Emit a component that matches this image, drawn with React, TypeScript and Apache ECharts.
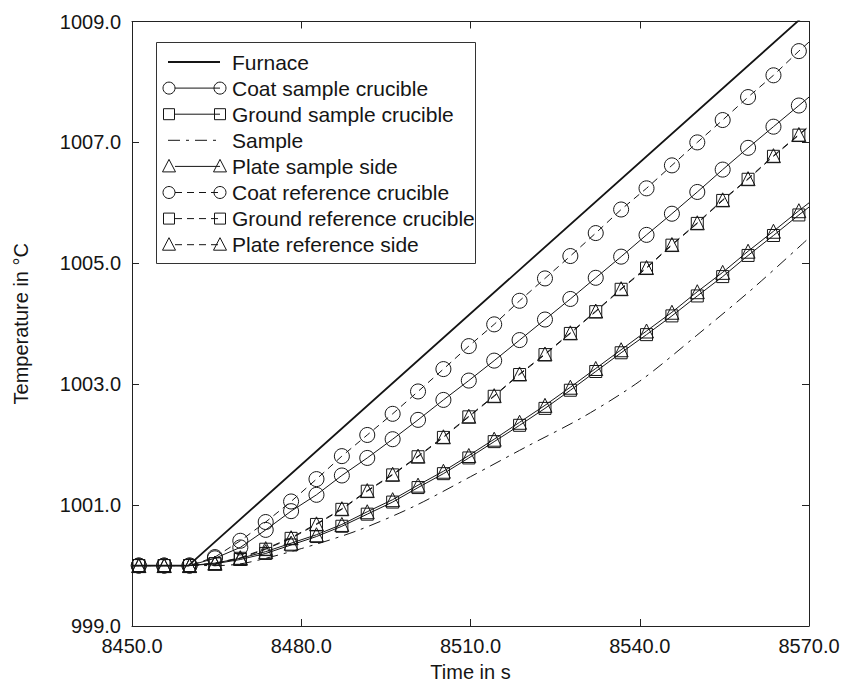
import React, { useEffect, useRef } from "react";
import * as echarts from "echarts";

const FONT = "'Liberation Sans', Arial, Helvetica, sans-serif";
const INK = "#151515";

// x-axis / y-axis ranges and tick labels
const xTicks = [8450, 8480, 8510, 8540, 8570];
const yTicks = [999, 1001, 1003, 1005, 1007, 1009];

// times of the marked series (first and last entries are line ends without markers)
const markTimes = [
  8450.0, 8451.2, 8455.7, 8460.2, 8464.7, 8469.2, 8473.7, 8478.2, 8482.7, 8487.2,
  8491.7, 8496.2, 8500.7, 8505.2, 8509.7, 8514.2, 8518.7, 8523.2, 8527.7, 8532.2,
  8536.7, 8541.2, 8545.7, 8550.2, 8554.7, 8559.2, 8563.7, 8568.2, 8570.0,
];

const coatSample = [
  1000.0, 1000.0, 1000.0, 1000.0, 1000.12, 1000.3, 1000.59, 1000.9, 1001.17, 1001.49,
  1001.78, 1002.09, 1002.41, 1002.74, 1003.06, 1003.39, 1003.73, 1004.07, 1004.41, 1004.76,
  1005.11, 1005.47, 1005.82, 1006.18, 1006.55, 1006.91, 1007.26, 1007.61, 1007.75,
];
const groundSample = [
  1000.0, 1000.0, 1000.0, 1000.0, 1000.03, 1000.1, 1000.2, 1000.34, 1000.48, 1000.65,
  1000.85, 1001.05, 1001.29, 1001.52, 1001.78, 1002.05, 1002.32, 1002.6, 1002.9, 1003.21,
  1003.52, 1003.82, 1004.13, 1004.46, 1004.78, 1005.13, 1005.46, 1005.8, 1005.93,
];
const plateSample = [
  1000.0, 1000.0, 1000.0, 1000.0, 1000.04, 1000.12, 1000.23, 1000.37, 1000.51, 1000.68,
  1000.89, 1001.09, 1001.33, 1001.56, 1001.82, 1002.09, 1002.37, 1002.65, 1002.95, 1003.26,
  1003.57, 1003.88, 1004.19, 1004.53, 1004.85, 1005.2, 1005.53, 1005.87, 1006.0,
];
const coatRef = [
  1000.0, 1000.0, 1000.0, 1000.0, 1000.14, 1000.41, 1000.72, 1001.06, 1001.43, 1001.81,
  1002.16, 1002.51, 1002.88, 1003.25, 1003.63, 1003.99, 1004.38, 1004.75, 1005.12, 1005.5,
  1005.89, 1006.24, 1006.62, 1007.0, 1007.37, 1007.75, 1008.11, 1008.51, 1008.66,
];
const groundRef = [
  1000.0, 1000.0, 1000.0, 1000.0, 1000.03, 1000.12, 1000.27, 1000.45, 1000.68, 1000.93,
  1001.23, 1001.5, 1001.8, 1002.12, 1002.46, 1002.8, 1003.16, 1003.49, 1003.84, 1004.2,
  1004.57, 1004.92, 1005.3, 1005.66, 1006.04, 1006.39, 1006.77, 1007.12, 1007.26,
];
const plateRef = [
  1000.0, 1000.0, 1000.0, 1000.0, 1000.04, 1000.13, 1000.28, 1000.46, 1000.69, 1000.94,
  1001.24, 1001.51, 1001.81, 1002.13, 1002.47, 1002.81, 1003.17, 1003.5, 1003.85, 1004.21,
  1004.58, 1004.93, 1005.31, 1005.67, 1006.05, 1006.4, 1006.78, 1007.13, 1007.27,
];

const furnaceTimes = [8450, 8460, 8570];
const furnace = [1000.0, 1000.0, 1009.17];

const sampleTimes = [8450, 8465, 8470, 8480, 8490, 8500, 8510, 8520, 8530, 8540, 8550, 8560, 8570];
const sample = [
  1000.0, 1000.0, 1000.04, 1000.28, 1000.58, 1000.98, 1001.47, 1001.97, 1002.46, 1003.05,
  1003.8, 1004.58, 1005.42,
];

const DASH = [7, 5];
const DASHDOT = [12, 6, 3, 6];

type Entry = {
  name: string;
  times: number[];
  values: number[];
  symbol: string;
  size: number;
  dash: number[] | null;
  width: number;
  marked: boolean;
};

const entries: Entry[] = [
  { name: "Furnace", times: furnaceTimes, values: furnace, symbol: "none", size: 0, dash: null, width: 1.8, marked: false },
  { name: "Coat sample crucible", times: markTimes, values: coatSample, symbol: "circle", size: 15, dash: null, width: 1, marked: true },
  { name: "Ground sample crucible", times: markTimes, values: groundSample, symbol: "rect", size: 12, dash: null, width: 1, marked: true },
  { name: "Sample", times: sampleTimes, values: sample, symbol: "none", size: 0, dash: DASHDOT, width: 1, marked: false },
  { name: "Plate sample side", times: markTimes, values: plateSample, symbol: "triangle", size: 14, dash: null, width: 1, marked: true },
  { name: "Coat reference crucible", times: markTimes, values: coatRef, symbol: "circle", size: 15, dash: DASH, width: 1, marked: true },
  { name: "Ground reference crucible", times: markTimes, values: groundRef, symbol: "rect", size: 12, dash: DASH, width: 1, marked: true },
  { name: "Plate reference side", times: markTimes, values: plateRef, symbol: "triangle", size: 14, dash: DASH, width: 1, marked: true },
];

function buildData(e: Entry) {
  return e.times.map((t, i) => {
    const end = i === 0 || i === e.times.length - 1;
    if (!e.marked || end) return { value: [t, e.values[i]], symbol: "none" };
    return { value: [t, e.values[i]] };
  });
}

function legendGraphics() {
  const els: any[] = [];
  els.push({
    type: "rect",
    shape: { x: 156.5, y: 42.5, width: 319, height: 221 },
    style: { fill: "#fff", stroke: "#333", lineWidth: 1 },
    z: 50,
  });
  const x1 = 169;
  const x2 = 220;
  entries.forEach((e, i) => {
    const y = 62 + i * 26.1;
    const lineStart = e.symbol === "none" ? x1 - 1 : x1 + 6;
    els.push({
      type: "line",
      shape: { x1: lineStart, y1: y, x2: x2, y2: y },
      style: { stroke: INK, lineWidth: e.width, lineDash: e.dash || undefined },
      z: 51,
    });
    [x1, x2].forEach((cx) => {
      if (e.symbol === "circle") {
        els.push({ type: "circle", shape: { cx, cy: y, r: 6 }, style: { fill: "none", stroke: INK, lineWidth: 1 }, z: 52 });
      } else if (e.symbol === "rect") {
        els.push({ type: "rect", shape: { x: cx - 5.5, y: y - 5.5, width: 11, height: 11 }, style: { fill: "none", stroke: INK, lineWidth: 1 }, z: 52 });
      } else if (e.symbol === "triangle") {
        els.push({
          type: "polygon",
          shape: { points: [[cx, y - 7], [cx - 6.5, y + 5.5], [cx + 6.5, y + 5.5]] },
          style: { fill: "none", stroke: INK, lineWidth: 1 },
          z: 52,
        });
      }
    });
    els.push({
      type: "text",
      x: 232,
      y: y,
      style: { text: e.name, fontSize: 21, fontFamily: FONT, fill: INK, verticalAlign: "middle", align: "left" },
      z: 53,
    });
  });
  return els;
}

export default function App() {
  const ref = useRef<HTMLDivElement>(null);
  useEffect(() => {
    const chart = echarts.init(ref.current!, undefined, { renderer: "svg" });
    const axisLine = { show: true, onZero: false, lineStyle: { color: "#222", width: 1 } };
    const tick = { show: true, inside: true, length: 7, lineStyle: { color: "#222", width: 1 } };
    const labelStyle = { fontSize: 20, fontFamily: FONT, color: INK };
    const option: any = {
      animation: false,
      backgroundColor: "#fff",
      grid: { left: 132, right: 34, top: 21.5, bottom: 52.5, containLabel: false },
      xAxis: [
        {
          type: "value",
          min: xTicks[0],
          max: xTicks[xTicks.length - 1],
          interval: xTicks[1] - xTicks[0],
          position: "bottom",
          axisLine,
          axisTick: tick,
          splitLine: { show: false },
          axisLabel: { ...labelStyle, margin: 10, formatter: (v: number) => v.toFixed(1) },
          name: "Time in s",
          nameLocation: "middle",
          nameGap: 36,
          nameTextStyle: { ...labelStyle },
        },
        {
          type: "value",
          min: xTicks[0],
          max: xTicks[xTicks.length - 1],
          interval: xTicks[1] - xTicks[0],
          position: "top",
          axisLine,
          axisTick: tick,
          splitLine: { show: false },
          axisLabel: { show: false },
        },
      ],
      yAxis: [
        {
          type: "value",
          min: yTicks[0],
          max: yTicks[yTicks.length - 1],
          interval: yTicks[1] - yTicks[0],
          position: "left",
          axisLine,
          axisTick: tick,
          splitLine: { show: false },
          axisLabel: { ...labelStyle, margin: 11, formatter: (v: number) => v.toFixed(1) },
          name: "Temperature in °C",
          nameLocation: "middle",
          nameGap: 101,
          nameTextStyle: { ...labelStyle },
        },
        {
          type: "value",
          min: yTicks[0],
          max: yTicks[yTicks.length - 1],
          interval: yTicks[1] - yTicks[0],
          position: "right",
          axisLine,
          axisTick: tick,
          splitLine: { show: false },
          axisLabel: { show: false },
        },
      ],
      series: entries.map((e) => ({
        type: "line",
        name: e.name,
        xAxisIndex: 0,
        yAxisIndex: 0,
        data: buildData(e),
        symbol: e.symbol === "none" ? "none" : e.symbol,
        symbolSize: e.size,
        showSymbol: e.marked,
        showAllSymbol: true,
        silent: true,
        clip: true,
        smooth: e.name === "Sample" ? 0.3 : false,
        lineStyle: { color: INK, width: e.width, type: e.dash || "solid" },
        itemStyle: { color: "transparent", borderColor: INK, borderWidth: 1 },
        emphasis: { disabled: true },
      })),
      graphic: legendGraphics(),
    };
    chart.setOption(option);
    return () => chart.dispose();
  }, []);
  return (
    <div
      ref={ref}
      style={{ position: "fixed", left: 0, top: 0, width: 843, height: 687, background: "#fff" }}
    />
  );
}
